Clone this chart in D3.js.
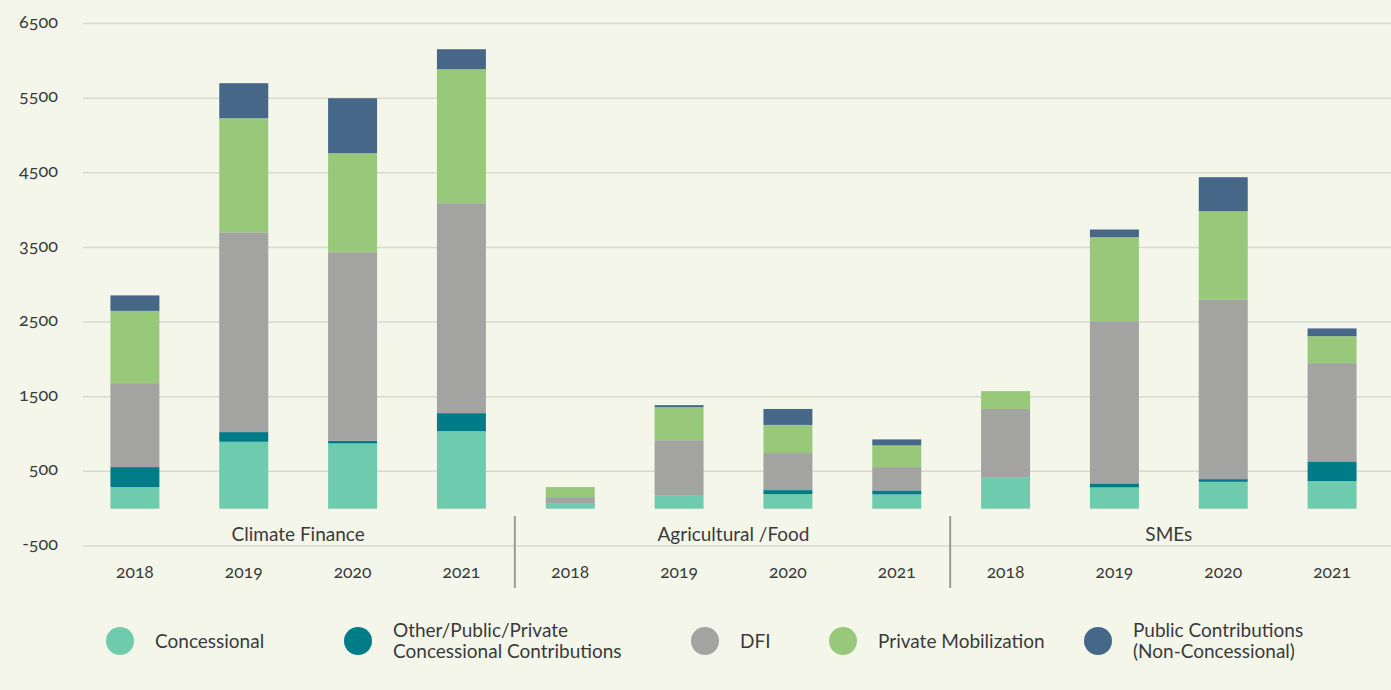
<!DOCTYPE html>
<html>
<head>
<meta charset="utf-8">
<script src="https://cdn.jsdelivr.net/npm/d3@7"></script>
<style>
  html, body { margin: 0; padding: 0; background: #f4f6ea; }
  svg { display: block; font-family: Lato, "Open Sans", sans-serif; }
</style>
</head>
<body>
<div id="chart"></div>
<script>
// Categories
const groups = ["Climate Finance", "Agricultural /Food", "SMEs"];
const years = ["2018", "2019", "2020", "2021"];
const seriesNames = [
    "Concessional",
    "Other/Public/Private Concessional Contributions",
    "DFI",
    "Private Mobilization",
    "Public Contributions (Non-Concessional)"
];
const legendLines = [
    ["Concessional"],
    ["Other/Public/Private", "Concessional Contributions"],
    ["DFI"],
    ["Private Mobilization"],
    ["Public Contributions", "(Non-Concessional)"]
];
const seriesColors = ["#6ecbae", "#007b88", "#a3a3a2", "#98c97b", "#476789"];

// Values, in order: Climate 2018-2021, Agri 2018-2021, SMEs 2018-2021
const concessional = [290, 896, 874, 1039, 75, 182, 196, 191, 423, 285, 360, 370];
const otherConcessional = [267, 130, 35, 241, 0, 0, 53, 54, 0, 54, 36, 263];
const dfi = [1125, 2677, 2527, 2813, 80, 736, 496, 312, 913, 2173, 2402, 1317];
const privateMob = [968, 1528, 1326, 1794, 134, 442, 377, 291, 239, 1125, 1187, 361];
const publicNonConc = [207, 469, 737, 268, 0, 27, 214, 80, 0, 103, 456, 104];

const yTicks = [-500, 500, 1500, 2500, 3500, 4500, 5500, 6500];

const width = 1391, height = 690;

const svg = d3.select("#chart").append("svg")
    .attr("width", width)
    .attr("height", height);

svg.append("rect").attr("width", width).attr("height", height).attr("fill", "#f4f6ea");

// Build rows for stacking
const keys = [];
groups.forEach(g => years.forEach(y => keys.push(g + "|" + y)));
const seriesValues = [concessional, otherConcessional, dfi, privateMob, publicNonConc];
const rows = keys.map((k, i) => {
    const row = { key: k };
    seriesNames.forEach((s, j) => { row[s] = seriesValues[j][i]; });
    return row;
});

const x = d3.scaleBand()
    .domain(keys)
    .range([80.5, 1386.5])
    .paddingInner(0.55)
    .paddingOuter(0.275);

const y = d3.scaleLinear()
    .domain([-500, 6500])
    .range([546, 23.5]);

// Gridlines
svg.append("g")
    .selectAll("line")
    .data(yTicks)
    .join("line")
    .attr("x1", 83)
    .attr("x2", width)
    .attr("y1", d => y(d))
    .attr("y2", d => y(d))
    .attr("stroke", "#d8d9d1")
    .attr("stroke-width", 1.5);

// Y axis labels
const yAxis = svg.append("g")
    .attr("transform", "translate(58,0)")
    .call(d3.axisLeft(y).tickValues(yTicks).tickSize(0).tickPadding(0).tickFormat(d => d));
yAxis.select(".domain").remove();
yAxis.selectAll("text")
    .attr("dy", "0.2em")
    .style("font-size", "18px")
    .style("font-family", "Lato, 'Open Sans', sans-serif")
    .style("font-variant-numeric", "oldstyle-nums")
    .attr("fill", "#3a3a3a");

// Stacked bars
const stacked = d3.stack().keys(seriesNames)(rows);

svg.append("g")
    .selectAll("g")
    .data(stacked)
    .join("g")
    .attr("fill", (d, i) => seriesColors[i])
    .selectAll("rect")
    .data(d => d)
    .join("rect")
    .attr("x", d => x(d.data.key))
    .attr("width", x.bandwidth())
    .attr("y", d => y(d[1]))
    .attr("height", d => Math.max(0, y(d[0]) - y(d[1])));

// Year labels
svg.append("g")
    .selectAll("text")
    .data(keys)
    .join("text")
    .attr("x", d => x(d) + x.bandwidth() / 2)
    .attr("y", 578)
    .attr("text-anchor", "middle")
    .style("font-size", "17.5px")
    .style("font-variant-numeric", "oldstyle-nums")
    .attr("fill", "#3a3a3a")
    .text(d => d.split("|")[1]);

// Group labels
groups.forEach((g, gi) => {
    const first = x(g + "|" + years[0]);
    const last = x(g + "|" + years[years.length - 1]) + x.bandwidth();
    svg.append("text")
        .attr("x", (first + last) / 2)
        .attr("y", 541)
        .attr("text-anchor", "middle")
        .style("font-size", "19px")
        .attr("fill", "#3a3a3a")
        .text(g);
    if (gi > 0) {
        const sepX = first - x.step() * x.paddingInner() / 2 - 1;
        svg.append("line")
            .attr("x1", sepX).attr("x2", sepX)
            .attr("y1", 516).attr("y2", 588)
            .attr("stroke", "#9a9a9a")
            .attr("stroke-width", 2);
    }
});

// Legend
const legendX = [120, 358, 705, 843, 1098];
const legend = svg.append("g").attr("class", "legend");
seriesNames.forEach((s, i) => {
    const item = legend.append("g").attr("transform", `translate(${legendX[i]}, 641)`);
    item.append("circle")
        .attr("r", 14)
        .attr("fill", seriesColors[i]);
    const lines = legendLines[i];
    lines.forEach((line, li) => {
        item.append("text")
            .attr("x", 35)
            .attr("y", (li - (lines.length - 1) / 2) * 21)
            .attr("dy", "0.35em")
            .style("font-size", "19px")
            .attr("fill", "#3a3a3a")
            .text(line);
    });
});
</script>
</body>
</html>
